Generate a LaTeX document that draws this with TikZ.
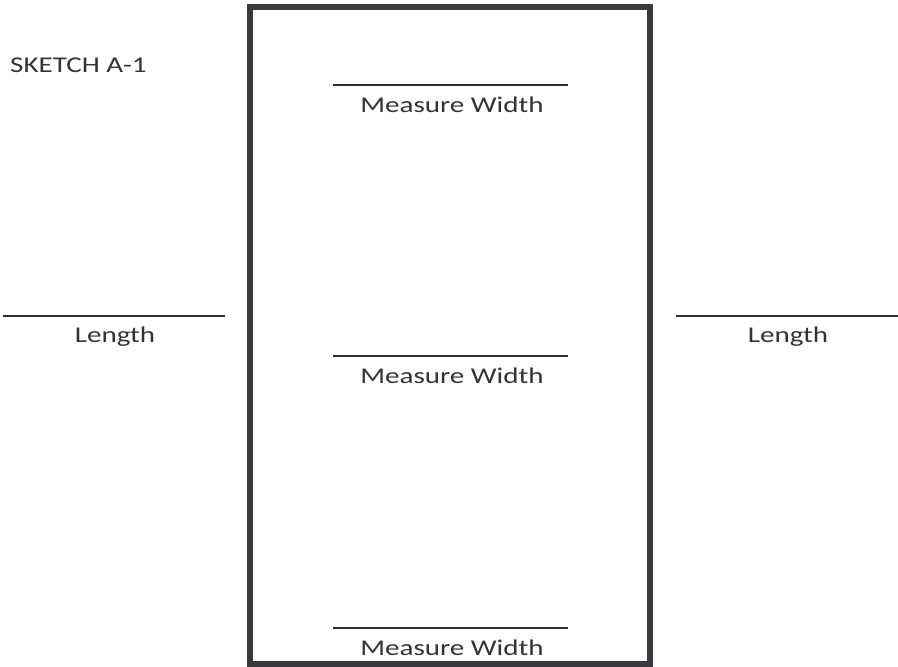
\documentclass[tikz,border=0pt]{standalone}
\usepackage{fontspec}
\setmainfont{Carlito}
\usepackage{graphicx}
\definecolor{txt}{HTML}{333333}
\definecolor{ln}{HTML}{2E2E2E}
\definecolor{boxc}{HTML}{3A3A3E}
\tikzset{
  lbl/.style={anchor=base, inner sep=0pt, text=txt, font=\fontsize{22.5}{27}\selectfont},
  uline/.style={draw=ln, line width=2pt},
  outline/.style={draw=boxc, line width=5.5pt}
}
\newcommand{\wide}[1]{\scalebox{1.29}[1]{#1}}
\begin{document}
\begin{tikzpicture}[x=1pt,y=-1pt]
\fill[white] (0,0) rectangle (898,667);
\useasboundingbox (0,0) rectangle (898,667);
% outer rectangle
\draw[outline] (250,7) rectangle (650,664);
% title
\node[lbl, anchor=base west] (title) at (10,72) {\wide{SKETCH A-1}};
% measure width lines and labels
\draw[uline] (333,85) -- (568,85);
\node[lbl] (mw1) at (452,112) {\wide{Measure Width}};
\draw[uline] (333,356) -- (568,356);
\node[lbl] (mw2) at (452,383) {\wide{Measure Width}};
\draw[uline] (333,628) -- (568,628);
\node[lbl] (mw3) at (452,655) {\wide{Measure Width}};
% length lines and labels
\draw[uline] (3,316) -- (225,316);
\node[lbl] (len1) at (115,342) {\wide{Length}};
\draw[uline] (676,316) -- (898,316);
\node[lbl] (len2) at (788,342) {\wide{Length}};
\end{tikzpicture}
\end{document}
